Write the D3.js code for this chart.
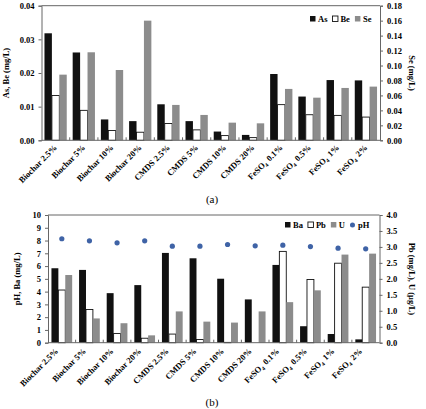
<!DOCTYPE html>
<html>
<head>
<meta charset="utf-8">
<script src="https://cdn.jsdelivr.net/npm/d3@7"></script>
<style>
  body { margin: 0; background: #fff; }
  text { font-family: "Liberation Serif", "Times New Roman", serif; }
</style>
</head>
<body>
<div id="chart"></div>
<script>
// treatments (x categories), shared by both panels
const categories = ["Biochar 2.5%", "Biochar 5%", "Biochar 10%", "Biochar 20%",
  "CMDS 2.5%", "CMDS 5%", "CMDS 10%", "CMDS 20%",
  "FeSO4 0.1%", "FeSO4 0.5%", "FeSO4 1%", "FeSO4 2%"];

// panel (a)
const asVals = [0.0318, 0.0261, 0.0062, 0.0057, 0.0107, 0.0057, 0.0026, 0.0016, 0.0197, 0.0130, 0.0179, 0.0178];
const beVals = [0.0133, 0.0089, 0.0029, 0.0024, 0.0050, 0.0031, 0.0014, 0.0008, 0.0106, 0.0076, 0.0074, 0.0069];
const seVals = [0.0878, 0.1177, 0.0940, 0.1600, 0.0473, 0.0339, 0.0236, 0.0227, 0.0687, 0.0570, 0.0700, 0.0718];
const ticksA = [0, 0.01, 0.02, 0.03, 0.04];
const ticksARight = [0, 0.02, 0.04, 0.06, 0.08, 0.10, 0.12, 0.14, 0.16, 0.18];

// panel (b)
const baVals = [5.83, 5.70, 3.88, 4.51, 7.03, 6.61, 5.01, 3.39, 6.09, 1.29, 0.68, 0.26];
const pbVals = [1.65, 1.04, 0.29, 0.14, 0.27, 0.10, 0.01, 0.00, 2.86, 1.98, 2.49, 1.74];
const uVals  = [2.12, 0.76, 0.61, 0.23, 0.98, 0.66, 0.63, 0.98, 1.27, 1.64, 2.76, 2.79];
const phVals = [8.14, 7.98, 7.82, 7.98, 7.56, 7.56, 7.69, 7.59, 7.64, 7.53, 7.40, 7.35];
const ticksB = [0, 1, 2, 3, 4, 5, 6, 7, 8, 9, 10];
const ticksBRight = [0, 0.5, 1, 1.5, 2, 2.5, 3, 3.5, 4];

const width = 426, height = 409;
const BLACK = "#111", GRAY = "#8c8c8c", BLUE = "#3f63a6", FRAME = "#666";

const svg = d3.select("#chart").append("svg")
  .attr("width", width)
  .attr("height", height);

// draw one panel: bars on left/right scales, optional dots
function panel(o) {
  const g = svg.append("g");

  const x0 = d3.scaleBand().domain(categories).range([o.left, o.right]).padding(0);
  const x1 = d3.scaleBand().domain(o.series.map(s => s.name))
    .range([0, x0.bandwidth()]).paddingInner(0).paddingOuter(o.barPad);

  const yL = d3.scaleLinear().domain(o.leftDomain).range([o.bottom, o.top]);
  const yR = d3.scaleLinear().domain(o.rightDomain).range([o.bottom, o.top]);

  // bars
  o.series.forEach(s => {
    const y = s.axis === "right" ? yR : yL;
    g.append("g").selectAll("rect")
      .data(s.values)
      .join("rect")
        .attr("x", (d, i) => x0(categories[i]) + x1(s.name))
        .attr("y", d => y(d))
        .attr("width", x1.bandwidth())
        .attr("height", d => y(0) - y(d))
        .attr("fill", s.fill)
        .attr("stroke", s.stroke || "none")
        .attr("stroke-width", 0.9);
  });

  // dots
  if (o.dots) {
    g.append("g").selectAll("circle")
      .data(o.dots.values)
      .join("circle")
        .attr("cx", (d, i) => x0(categories[i]) + x0.bandwidth() / 2)
        .attr("cy", d => yL(d))
        .attr("r", 2.6)
        .attr("fill", BLUE);
  }

  // left axis
  const axL = g.append("g")
    .attr("transform", `translate(${o.left},0)`)
    .call(d3.axisLeft(yL).tickValues(o.leftTicks).tickFormat(o.leftFormat).tickSize(3).tickPadding(4));
  // right axis
  const axR = g.append("g")
    .attr("transform", `translate(${o.right},0)`)
    .call(d3.axisRight(yR).tickValues(o.rightTicks).tickFormat(o.rightFormat).tickSize(3).tickPadding(4));
  [axL, axR].forEach(ax => {
    ax.select(".domain").attr("stroke", FRAME);
    ax.selectAll(".tick line").attr("stroke", FRAME);
    ax.selectAll(".tick text")
      .attr("font-size", 8.5).attr("font-weight", "bold").attr("fill", "#000")
      .style("font-family", "Liberation Serif, serif");
  });

  // top + bottom frame lines
  g.append("line").attr("x1", o.left).attr("x2", o.right).attr("y1", o.top).attr("y2", o.top)
    .attr("stroke", FRAME);
  g.append("line").attr("x1", o.left).attr("x2", o.right).attr("y1", o.bottom).attr("y2", o.bottom)
    .attr("stroke", FRAME);

  // small ticks between groups
  g.append("g").selectAll("line")
    .data(categories.slice(1))
    .join("line")
      .attr("x1", d => x0(d)).attr("x2", d => x0(d))
      .attr("y1", o.bottom).attr("y2", o.bottom - 3)
      .attr("stroke", FRAME);

  // rotated category labels
  const lab = g.append("g").selectAll("text")
    .data(categories)
    .join("text")
      .attr("text-anchor", "end")
      .attr("font-size", 8.5)
      .attr("font-weight", "bold")
      .attr("transform", d => `translate(${x0(d) + x0.bandwidth() / 2 + o.labelDx},${o.bottom + o.labelDy}) rotate(-45)`);
  lab.each(function(d) {
    const t = d3.select(this);
    if (d.startsWith("FeSO4")) {
      t.append("tspan").text("FeSO");
      t.append("tspan").text("4").attr("font-size", 5.5).attr("dy", 2);
      t.append("tspan").text(d.slice(6)).attr("dy", -2).attr("dx", 3);
    } else {
      t.text(d);
    }
  });

  // axis titles
  g.append("text")
    .attr("transform", `translate(${o.leftTitleX},${(o.top + o.bottom) / 2}) rotate(-90)`)
    .attr("text-anchor", "middle")
    .attr("font-size", 8.5).attr("font-weight", "bold")
    .text(o.leftTitle);
  g.append("text")
    .attr("transform", `translate(${o.rightTitleX},${(o.top + o.bottom) / 2}) rotate(90)`)
    .attr("text-anchor", "middle")
    .attr("font-size", 8.5).attr("font-weight", "bold")
    .text(o.rightTitle);

  // legend
  const leg = g.append("g").attr("transform", `translate(${o.legendX},${o.legendY})`);
  let lx = 0;
  o.legend.forEach(it => {
    if (it.dot) {
      leg.append("circle").attr("cx", lx + 2.5).attr("cy", -3).attr("r", 2.5).attr("fill", BLUE);
    } else {
      leg.append("rect").attr("x", lx).attr("y", -6).attr("width", 5.5).attr("height", 5.5)
        .attr("fill", it.fill).attr("stroke", it.stroke || "none").attr("stroke-width", 0.9);
    }
    const t = leg.append("text").attr("x", lx + 8).attr("y", 0)
      .attr("font-size", 8.5).attr("font-weight", "bold").text(it.name);
    lx += 8 + t.node().getComputedTextLength() + 5;
  });

  // panel letter
  svg.append("text")
    .attr("x", o.letterX).attr("y", o.letterY)
    .attr("text-anchor", "middle")
    .attr("font-size", 11)
    .text(o.letter);
}

panel({
  left: 41.5, right: 380, top: 5.7, bottom: 140.3,
  leftDomain: [0, 0.04], rightDomain: [0, 0.18],
  leftTicks: ticksA, rightTicks: ticksARight,
  leftFormat: d3.format(".2f"), rightFormat: d3.format(".2f"),
  barPad: 0.4,
  series: [
    { name: "As", values: asVals, fill: BLACK, axis: "left" },
    { name: "Be", values: beVals, fill: "#fff", stroke: BLACK, axis: "left" },
    { name: "Se", values: seVals, fill: GRAY, axis: "right" }
  ],
  legend: [
    { name: "As", fill: BLACK },
    { name: "Be", fill: "#fff", stroke: BLACK },
    { name: "Se", fill: GRAY }
  ],
  legendX: 310, legendY: 22,
  labelDx: 2, labelDy: 8,
  leftTitle: "As, Be (mg/L)", leftTitleX: 9,
  rightTitle: "Se (mg/L)", rightTitleX: 409,
  letter: "(a)", letterX: 212, letterY: 203
});

panel({
  left: 48, right: 379.5, top: 215, bottom: 342.7,
  leftDomain: [0, 10], rightDomain: [0, 4],
  leftTicks: ticksB, rightTicks: ticksBRight,
  leftFormat: d3.format("d"), rightFormat: d3.format(".1f"),
  barPad: 0.5,
  series: [
    { name: "Ba", values: baVals, fill: BLACK, axis: "left" },
    { name: "Pb", values: pbVals, fill: "#fff", stroke: BLACK, axis: "right" },
    { name: "U", values: uVals, fill: GRAY, axis: "right" }
  ],
  dots: { name: "pH", values: phVals },
  legend: [
    { name: "Ba", fill: BLACK },
    { name: "Pb", fill: "#fff", stroke: BLACK },
    { name: "U", fill: GRAY },
    { name: "pH", dot: true }
  ],
  legendX: 285, legendY: 228,
  labelDx: -3, labelDy: 9,
  leftTitle: "pH, Ba (mg/L)", leftTitleX: 20,
  rightTitle: "Pb (mg/L), U (\u03bcg/L)", rightTitleX: 409,
  letter: "(b)", letterX: 212, letterY: 406
});
</script>
</body>
</html>
